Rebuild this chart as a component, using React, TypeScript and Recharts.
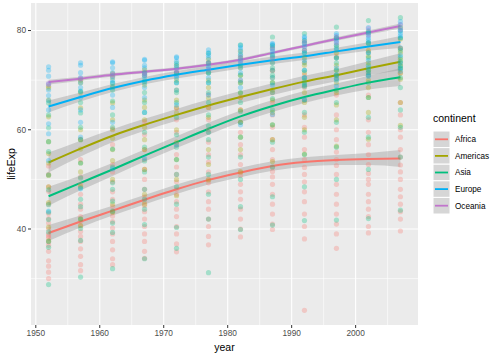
import React from 'react';
import { ComposedChart, Scatter, Line, Area, XAxis, YAxis, CartesianGrid, Label } from 'recharts';

const years = [1952, 1957, 1962, 1967, 1972, 1977, 1982, 1987, 1992, 1997, 2002, 2007];
const continents = ['Africa', 'Americas', 'Asia', 'Europe', 'Oceania'];
const colors = ['#F8766D', '#A3A500', '#00BF7D', '#00B0F6', '#C175CC'];
const xTicks = [1950, 1960, 1970, 1980, 1990, 2000];
const xMinor = [1955, 1965, 1975, 1985, 1995, 2005];
const yTicks = [40, 60, 80];
const yMinor = [30, 50, 70];

// lifeExp values per year (one inner list per year)
const africaLifeExp = [
  [30.0, 31.3, 32.5, 33.6, 35.5, 36.7, 37.4, 38.2, 38.6, 39.0, 40.0, 41.2, 42.1, 43.1, 45.0, 47.6, 48.5, 51.0, 52.7],
  [31.6, 32.8, 34.5, 36.0, 37.5, 38.5, 39.5, 40.6, 41.5, 42.5, 44.0, 45.0, 47.0, 49.0, 50.5, 54.0, 58.1],
  [32.8, 34.0, 35.8, 37.5, 39.0, 40.2, 41.5, 42.6, 43.5, 44.5, 46.0, 47.5, 49.5, 51.5, 53.0, 57.0, 60.2],
  [34.1, 35.5, 37.5, 39.0, 40.5, 42.0, 43.5, 44.7, 45.5, 46.5, 48.0, 50.0, 52.0, 54.0, 56.0, 59.0, 61.6],
  [35.4, 37.0, 39.0, 40.5, 42.5, 44.0, 45.5, 47.0, 48.0, 49.5, 51.0, 52.5, 55.0, 57.0, 59.5, 62.0, 64.3],
  [36.8, 38.5, 40.5, 42.0, 44.0, 45.5, 47.5, 49.3, 50.0, 51.5, 53.5, 55.0, 57.5, 60.0, 62.0, 64.5, 67.1],
  [38.4, 40.0, 42.0, 44.0, 46.0, 47.5, 49.0, 50.8, 51.5, 53.0, 55.0, 57.0, 59.5, 61.5, 64.0, 66.5, 69.9],
  [39.9, 41.0, 43.0, 45.0, 47.0, 49.0, 50.5, 51.6, 52.5, 54.0, 56.0, 58.0, 60.5, 63.0, 65.5, 67.5, 71.9],
  [23.6, 38.0, 40.5, 43.0, 45.5, 47.5, 49.5, 51.0, 52.4, 54.0, 56.0, 58.5, 60.5, 63.0, 66.0, 68.5, 71.0, 73.6],
  [36.1, 39.0, 41.0, 43.0, 45.0, 47.0, 49.0, 51.0, 52.8, 54.0, 55.5, 58.0, 60.0, 63.0, 67.0, 70.5, 74.8],
  [39.2, 40.5, 42.5, 44.0, 45.5, 47.0, 49.0, 50.0, 51.2, 53.0, 55.0, 57.0, 59.5, 62.0, 67.0, 71.0, 75.7],
  [39.6, 42.0, 43.5, 45.0, 46.5, 48.0, 50.0, 51.5, 52.9, 54.5, 56.0, 58.5, 60.0, 63.0, 65.5, 71.5, 76.4],
];
const americasLifeExp = [
  [37.6, 40.4, 45.3, 48.5, 50.8, 53.3, 55.2, 57.6, 62.6, 66.0, 68.4, 68.75],
  [40.7, 42.0, 48.6, 51.5, 53.3, 56.1, 58.0, 60.0, 64.4, 67.5, 69.5, 70.0],
  [43.4, 45.0, 50.0, 53.8, 56.0, 58.3, 60.0, 62.0, 65.4, 68.7, 70.5, 71.3],
  [45.0, 47.0, 52.0, 56.0, 58.0, 60.5, 62.0, 64.5, 66.0, 69.0, 71.0, 72.1],
  [46.7, 50.0, 54.0, 57.5, 60.0, 63.4, 64.5, 66.0, 68.0, 70.0, 71.5, 72.9],
  [49.9, 53.0, 56.0, 59.5, 62.5, 64.5, 66.4, 68.5, 70.0, 71.5, 73.5, 74.2],
  [51.5, 56.0, 58.5, 61.5, 64.0, 66.5, 67.4, 69.5, 71.0, 72.5, 74.5, 75.8],
  [53.6, 58.0, 61.0, 63.5, 66.0, 68.0, 69.5, 70.5, 72.0, 73.5, 75.0, 76.9],
  [55.1, 60.0, 62.5, 65.5, 67.5, 69.0, 69.9, 71.5, 73.0, 74.5, 76.0, 77.9],
  [56.7, 62.0, 65.0, 67.5, 69.5, 71.0, 72.1, 73.0, 74.5, 75.5, 77.0, 78.6],
  [58.1, 63.5, 66.5, 68.5, 70.0, 71.5, 72.0, 73.5, 74.8, 76.0, 77.5, 79.8],
  [60.9, 65.5, 70.2, 71.4, 72.2, 72.9, 73.5, 74.2, 75.5, 76.4, 78.3, 80.65],
];
const asiaLifeExp = [
  [28.8, 36.3, 37.5, 39.4, 41.9, 43.4, 44.9, 47.9, 50.9, 55.6, 57.6, 60.4, 63.0, 65.4],
  [30.3, 37.7, 40.1, 42.0, 44.5, 46.0, 48.3, 50.3, 53.3, 58.0, 60.5, 63.4, 65.5, 67.8],
  [32.0, 39.3, 41.2, 43.6, 45.6, 48.0, 49.3, 52.5, 56.1, 60.5, 63.0, 65.8, 68.0, 69.4],
  [34.0, 40.9, 44.0, 46.0, 48.0, 51.5, 53.7, 56.5, 59.5, 63.5, 65.5, 67.5, 69.8, 71.4],
  [36.1, 40.3, 45.0, 48.5, 51.0, 54.0, 56.5, 59.0, 62.5, 65.5, 67.5, 69.5, 71.5, 73.4],
  [31.2, 42.0, 47.0, 51.0, 54.5, 58.0, 60.8, 63.0, 65.5, 67.5, 69.5, 71.5, 73.5, 75.4],
  [39.9, 44.5, 50.0, 54.5, 58.5, 61.5, 63.7, 65.5, 67.5, 69.5, 71.0, 73.0, 75.0, 77.1],
  [40.8, 46.5, 52.5, 57.5, 61.0, 64.0, 66.3, 67.5, 69.5, 71.0, 72.5, 74.5, 76.5, 78.7],
  [41.7, 48.5, 55.0, 59.5, 63.5, 66.0, 68.7, 69.5, 70.5, 72.0, 73.5, 75.5, 77.5, 79.4],
  [41.8, 50.0, 56.5, 61.5, 65.5, 68.0, 70.3, 71.0, 72.0, 73.5, 74.5, 76.5, 78.5, 80.7],
  [42.1, 52.0, 58.5, 62.5, 66.5, 69.5, 71.0, 72.0, 73.0, 74.5, 75.5, 77.5, 79.5, 82.0],
  [43.8, 54.5, 60.5, 64.0, 68.5, 70.5, 72.4, 72.9, 73.8, 74.6, 76.0, 78.5, 80.0, 82.6],
];
const europeLifeExp = [
  [43.6, 53.8, 59.2, 61.2, 64.0, 65.9, 66.9, 68.0, 69.2, 70.8, 72.0, 72.7],
  [48.1, 58.5, 61.5, 64.0, 66.5, 67.7, 68.5, 69.5, 70.5, 71.5, 73.0, 73.5],
  [52.1, 61.5, 64.5, 67.0, 68.5, 69.5, 70.0, 70.8, 71.5, 72.5, 73.5, 73.7],
  [54.3, 63.5, 66.5, 68.5, 69.5, 70.6, 71.0, 71.5, 72.5, 73.0, 74.0, 74.2],
  [57.0, 65.0, 68.0, 69.5, 70.5, 70.9, 71.5, 72.5, 73.0, 73.8, 74.5, 74.7],
  [59.5, 67.0, 69.5, 70.5, 71.5, 72.3, 72.8, 73.5, 74.5, 75.0, 75.5, 76.1],
  [61.0, 68.5, 70.0, 71.5, 72.5, 73.5, 74.0, 74.5, 75.3, 76.0, 76.5, 77.0],
  [63.1, 69.0, 70.5, 72.0, 73.5, 74.8, 75.2, 75.8, 76.3, 77.0, 77.2, 77.4],
  [66.1, 69.0, 70.5, 72.0, 74.0, 75.5, 76.0, 76.8, 77.5, 78.0, 78.5, 78.8],
  [68.8, 70.0, 71.0, 72.5, 74.5, 76.1, 77.0, 77.5, 78.0, 78.5, 79.0, 79.4],
  [70.8, 71.5, 72.5, 74.0, 75.5, 77.5, 78.0, 78.5, 79.0, 79.5, 80.0, 80.6],
  [71.8, 72.5, 73.5, 75.0, 76.5, 78.6, 79.0, 79.5, 80.0, 80.5, 81.2, 81.8],
];
const oceaniaLifeExp = [
  [69.1, 69.4], [70.3, 70.3], [70.9, 71.2], [71.1, 71.5], [71.9, 71.9], [73.5, 72.2],
  [74.7, 73.8], [76.3, 74.3], [77.6, 76.3], [78.8, 77.6], [80.4, 79.1], [81.2, 80.2],
];

// loess fits and half-widths of the confidence band
const africaFit = [39.2, 41.5, 43.7, 45.9, 48.0, 49.9, 51.4, 52.7, 53.5, 53.9, 54.1, 54.2];
const africaSe = [1.6, 1.2, 1.0, 0.95, 0.95, 0.95, 0.95, 0.95, 0.95, 1.0, 1.2, 1.7];
const americasFit = [53.4, 56.2, 58.8, 61.0, 63.0, 64.9, 66.6, 68.2, 69.7, 71.0, 72.4, 73.7];
const americasSe = [2.0, 1.6, 1.3, 1.2, 1.2, 1.2, 1.2, 1.2, 1.2, 1.2, 1.4, 1.7];
const asiaFit = [46.6, 49.3, 52.0, 54.8, 57.5, 60.2, 62.7, 64.8, 66.6, 68.1, 69.5, 70.6];
const asiaSe = [1.9, 1.5, 1.3, 1.2, 1.2, 1.2, 1.2, 1.2, 1.2, 1.2, 1.4, 1.8];
const europeFit = [64.7, 66.6, 68.4, 69.9, 71.1, 72.1, 73.1, 74.0, 74.8, 75.8, 76.8, 77.7];
const europeSe = [1.2, 0.9, 0.8, 0.75, 0.75, 0.75, 0.75, 0.75, 0.75, 0.75, 0.85, 1.2];
const oceaniaFit = [69.6, 70.3, 71.1, 71.7, 72.3, 73.1, 74.1, 75.5, 76.9, 78.3, 79.6, 80.9];
const oceaniaSe = [0.5, 0.4, 0.35, 0.3, 0.3, 0.3, 0.3, 0.3, 0.3, 0.35, 0.4, 0.5];

const allLifeExp = [africaLifeExp, americasLifeExp, asiaLifeExp, europeLifeExp, oceaniaLifeExp];
const allFit = [africaFit, americasFit, asiaFit, europeFit, oceaniaFit];
const allSe = [africaSe, americasSe, asiaSe, europeSe, oceaniaSe];

const pointsFor = (vals: number[][]) =>
  vals.flatMap((col, i) => col.map((v) => ({ year: years[i], lifeExp: v })));

const smoothData = years.map((y, i) => {
  const row: any = { year: y };
  continents.forEach((c, k) => {
    row[c + 'Fit'] = allFit[k][i];
    row[c + 'Band'] = [allFit[k][i] - allSe[k][i], allFit[k][i] + allSe[k][i]];
  });
  return row;
});

const FONT = '"Liberation Sans", Arial, sans-serif';

const makeDot = (color: string) => (p: any) => (
  <circle cx={p.cx} cy={p.cy} r={2.6} fill={color} fillOpacity={0.3} />
);

export default function App() {
  return (
    <div style={{ position: 'absolute', left: 0, top: 0, width: 492, height: 355, background: '#fff', fontFamily: FONT }}>
      <ComposedChart width={492} height={355} data={smoothData} margin={{ top: 3, right: 74, bottom: 0, left: 0 }}>
        <CartesianGrid fill="#EBEBEB" stroke="#ffffff" strokeWidth={0.6} horizontalValues={yMinor} verticalValues={xMinor} />
        <CartesianGrid fill="none" stroke="#ffffff" strokeWidth={1.1} horizontalValues={yTicks} verticalValues={xTicks} />
        <XAxis
          dataKey="year"
          type="number"
          domain={[1949.25, 2009.75]}
          allowDataOverflow
          ticks={xTicks}
          height={30}
          axisLine={false}
          tickSize={3}
          tickMargin={2}
          tickLine={{ stroke: '#333333' }}
          tick={{ fill: '#4D4D4D', fontSize: 8.3, fontFamily: FONT }}
        >
          <Label value="year" position="insideBottom" offset={4} style={{ fill: '#000', fontSize: 10.5, fontFamily: FONT }} />
        </XAxis>
        <YAxis
          dataKey="lifeExp"
          type="number"
          domain={[20.65, 85.55]}
          allowDataOverflow
          ticks={yTicks}
          width={31}
          axisLine={false}
          tickSize={3}
          tickMargin={2}
          tickLine={{ stroke: '#333333' }}
          tick={{ fill: '#4D4D4D', fontSize: 8.3, fontFamily: FONT }}
        >
          <Label value="lifeExp" angle={-90} position="insideLeft" offset={11} style={{ fill: '#000', fontSize: 10.5, fontFamily: FONT, textAnchor: 'middle' }} />
        </YAxis>
        {continents.map((c, k) => (
          <Scatter key={c + 'pts'} data={pointsFor(allLifeExp[k])} isAnimationActive={false} shape={makeDot(colors[k])} />
        ))}
        {continents.map((c, k) => (
          <Area key={c + 'band'} dataKey={c + 'Band'} type="monotone" stroke="none" fill="#999999" fillOpacity={0.4} isAnimationActive={false} />
        ))}
        {continents.map((c, k) => (
          <Line key={c + 'fit'} dataKey={c + 'Fit'} type="monotone" stroke={colors[k]} strokeWidth={2} dot={false} isAnimationActive={false} />
        ))}
      </ComposedChart>
      <svg width={70} height={110} style={{ position: 'absolute', left: 425, top: 108 }}>
        <text x={8} y={14} fontSize={10.5} fill="#000" fontFamily={FONT}>continent</text>
        {continents.map((c, k) => (
          <g key={c}>
            <rect x={8} y={23 + k * 16.6} width={17} height={16.6} fill="#D6D6D6" stroke="#FFFFFF" strokeWidth={1} />
            <line x1={10} x2={23} y1={23 + k * 16.6 + 8.3} y2={23 + k * 16.6 + 8.3} stroke={colors[k]} strokeWidth={1.8} />
            <text x={30} y={23 + k * 16.6 + 11.2} fontSize={8.2} fill="#000" fontFamily={FONT}>{c}</text>
          </g>
        ))}
      </svg>
    </div>
  );
}
